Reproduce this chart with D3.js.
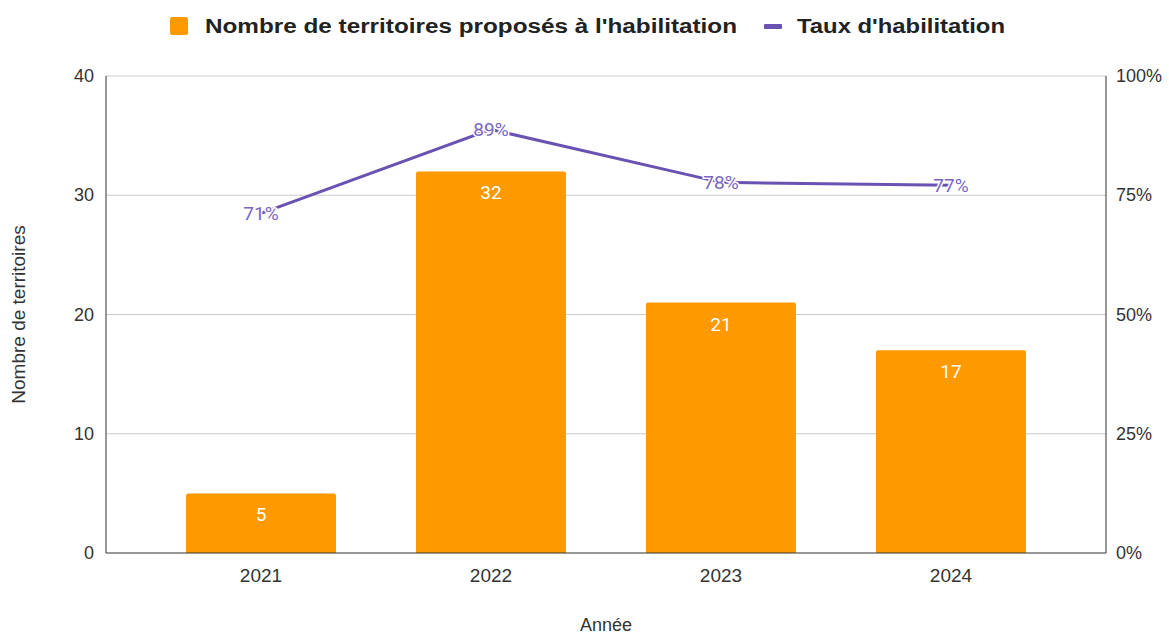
<!DOCTYPE html>
<html>
<head>
    <meta charset="utf-8">
    <title>Territoires proposés à l'habilitation</title>
    <script src="https://d3js.org/d3.v7.min.js"></script>
    <style>
        body { margin: 0; background: #fff; font-family: Roboto, 'Liberation Sans', sans-serif; }
    </style>
</head>
<body>
    <div id="chart"></div>
    <script>
        const years = ['2021', '2022', '2023', '2024']
        const territoires = [5, 32, 21, 17]
        const taux = [0.712, 0.888, 0.777, 0.771]
        const tauxLabels = ['71%', '89%', '78%', '77%']
        const leftTicks = [0, 10, 20, 30, 40]
        const rightTicks = [0, 0.25, 0.5, 0.75, 1]

        const w = 1169, h = 634
        const margin = { top: 76, right: 63, bottom: 81, left: 106 }
        const orange = '#ff9900'
        const purple = '#6a52b3'
        const arial = "'Liberation Sans', Arial, sans-serif"

        const svg = d3.select('#chart').append('svg')
            .attr('width', w)
            .attr('height', h)

        const x = d3.scaleBand()
            .domain(years)
            .range([margin.left, w - margin.right])
            .padding(0.348)

        const y = d3.scaleLinear()
            .domain([0, 40])
            .range([h - margin.bottom, margin.top])

        const y2 = d3.scaleLinear()
            .domain([0, 1])
            .range([h - margin.bottom, margin.top])

        // grid
        svg.append('g')
            .selectAll('line')
            .data(leftTicks.slice(1))
            .join('line')
            .attr('x1', margin.left)
            .attr('x2', w - margin.right)
            .attr('y1', d => y(d))
            .attr('y2', d => y(d))
            .attr('stroke', '#cccccc')
            .attr('stroke-width', 1)

        // bars with slightly rounded tops
        const r = 2
        svg.append('g')
            .selectAll('path')
            .data(territoires)
            .join('path')
            .attr('fill', orange)
            .attr('d', (d, i) => {
                const x0 = x(years[i]), x1 = x0 + x.bandwidth()
                const yt = y(d), yb = y(0)
                return `M${x0},${yb}V${yt + r}Q${x0},${yt} ${x0 + r},${yt}H${x1 - r}Q${x1},${yt} ${x1},${yt + r}V${yb}Z`
            })

        svg.append('g')
            .selectAll('text')
            .data(territoires)
            .join('text')
            .attr('x', (d, i) => x(years[i]) + x.bandwidth() / 2)
            .attr('y', d => y(d) + 28)
            .attr('text-anchor', 'middle')
            .attr('fill', '#fff')
            .attr('font-size', 19)
            .text(d => d)

        // axes lines
        const axisColor = '#333'
        svg.append('line')
            .attr('x1', margin.left).attr('x2', margin.left)
            .attr('y1', margin.top).attr('y2', y(0))
            .attr('stroke', axisColor)
        svg.append('line')
            .attr('x1', w - margin.right).attr('x2', w - margin.right)
            .attr('y1', margin.top).attr('y2', y(0))
            .attr('stroke', axisColor)
        svg.append('line')
            .attr('x1', margin.left).attr('x2', w - margin.right)
            .attr('y1', y(0)).attr('y2', y(0))
            .attr('stroke', axisColor)

        // tick labels
        svg.append('g')
            .selectAll('text')
            .data(leftTicks)
            .join('text')
            .attr('x', margin.left - 12)
            .attr('y', d => y(d) + 6)
            .attr('text-anchor', 'end')
            .attr('font-family', arial)
            .attr('font-size', 18)
            .attr('fill', '#333')
            .text(d => d)

        svg.append('g')
            .selectAll('text')
            .data(rightTicks)
            .join('text')
            .attr('x', w - margin.right + 10)
            .attr('y', d => y2(d) + 6)
            .attr('font-family', arial)
            .attr('font-size', 18)
            .attr('fill', '#333')
            .text(d => d3.format('.0%')(d))

        svg.append('g')
            .selectAll('text')
            .data(years)
            .join('text')
            .attr('x', d => x(d) + x.bandwidth() / 2)
            .attr('y', y(0) + 29)
            .attr('text-anchor', 'middle')
            .attr('font-family', arial)
            .attr('font-size', 19)
            .attr('fill', '#333')
            .text(d => d)

        // axis titles
        svg.append('text')
            .attr('x', (margin.left + w - margin.right) / 2)
            .attr('y', 631)
            .attr('text-anchor', 'middle')
            .attr('font-family', arial)
            .attr('font-size', 18)
            .attr('fill', '#333')
            .text('Année')

        svg.append('text')
            .attr('transform', `translate(25,${(margin.top + y(0)) / 2}) rotate(-90)`)
            .attr('text-anchor', 'middle')
            .attr('font-family', arial)
            .attr('font-size', 19)
            .attr('fill', '#333')
            .text('Nombre de territoires')

        // line
        const line = d3.line()
            .x((d, i) => x(years[i]) + x.bandwidth() / 2)
            .y(d => y2(d))

        svg.append('path')
            .datum(taux)
            .attr('d', line)
            .attr('fill', 'none')
            .attr('stroke', purple)
            .attr('stroke-width', 3)

        svg.append('g')
            .selectAll('text')
            .data(taux)
            .join('text')
            .attr('x', (d, i) => x(years[i]) + x.bandwidth() / 2)
            .attr('y', d => y2(d) + 7)
            .attr('text-anchor', 'middle')
            .attr('font-size', 19)
            .attr('fill', '#7a66c2')
            .attr('stroke', '#fff')
            .attr('stroke-width', 3)
            .attr('paint-order', 'stroke')
            .text((d, i) => tauxLabels[i])

        // legend
        const legend = svg.append('g')
            .attr('font-family', arial)
            .attr('font-weight', 'bold')
            .attr('font-size', 20)
            .attr('fill', '#222')
        legend.append('rect')
            .attr('x', 170).attr('y', 17).attr('width', 18).attr('height', 18)
            .attr('rx', 2)
            .attr('fill', orange)
        legend.append('text')
            .attr('x', 205).attr('y', 33)
            .attr('textLength', 532)
            .attr('lengthAdjust', 'spacingAndGlyphs')
            .text("Nombre de territoires proposés à l'habilitation")
        legend.append('rect')
            .attr('x', 764).attr('y', 24).attr('width', 18).attr('height', 5)
            .attr('rx', 1)
            .attr('fill', purple)
        legend.append('text')
            .attr('x', 797).attr('y', 33)
            .attr('textLength', 208)
            .attr('lengthAdjust', 'spacingAndGlyphs')
            .text("Taux d'habilitation")
    </script>
</body>
</html>
